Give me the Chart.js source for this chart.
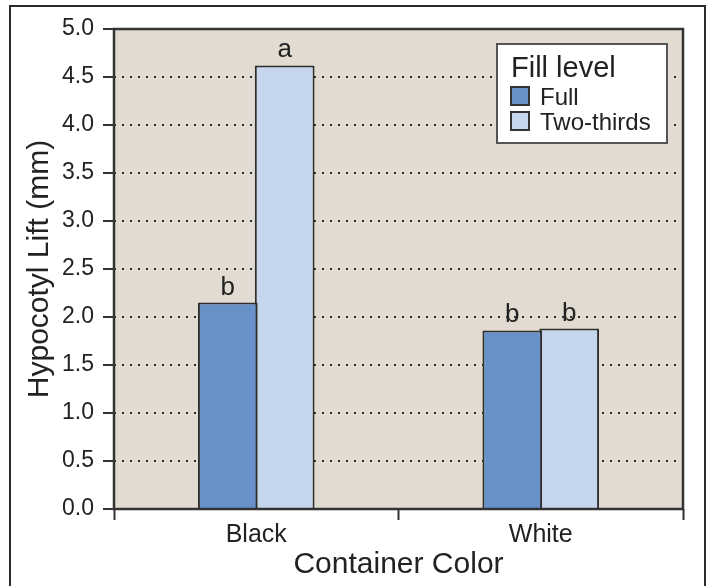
<!DOCTYPE html>
<html>
<head>
<meta charset="utf-8">
<title>Hypocotyl Lift by Container Color</title>
<script src="https://cdn.jsdelivr.net/npm/chart.js@4.4.0/dist/chart.umd.min.js"></script>
<style>
  html, body { margin: 0; padding: 0; background: #fff; }
  #wrap { position: relative; width: 709px; height: 586px; overflow: hidden; }
  #frame { position: absolute; left: 9px; top: 5px; width: 693px; height: 620px; border: 2px solid #2b2b2b; }
  #chart { position: absolute; left: 0; top: 0; }
</style>
</head>
<body>
<div id="wrap">
  <div id="frame"></div>
  <canvas id="chart" width="709" height="586"></canvas>
</div>
<script>
(function() {

  "use strict";

  // data
  var categories = ['Black', 'White'];
  var fullValues = [2.15, 1.86];
  var twoThirdsValues = [4.62, 1.88];
  var fullLetters = ['b', 'b'];
  var twoThirdsLetters = ['a', 'b'];
  var yTickValues = [0, 0.5, 1, 1.5, 2, 2.5, 3, 3.5, 4, 4.5, 5];

  var FONT = "'Liberation Sans', Arial, Helvetica, sans-serif";
  var INK = '#222';
  var colFull = '#6891c9';
  var colTwoThirds = '#c6d6ec';

  Chart.defaults.font.family = FONT;
  Chart.defaults.color = INK;

  // beige plot area + dark frame round it
  var plotFrame = {
    id: 'plotFrame',
    beforeDraw: function(chart) {
      var a = chart.chartArea, ctx = chart.ctx;
      ctx.save();
      ctx.fillStyle = '#e1dbd1';
      ctx.fillRect(a.left, a.top, a.right - a.left, a.bottom - a.top);
      ctx.restore();
    },
    afterDatasetsDraw: function(chart) {
      var a = chart.chartArea, ctx = chart.ctx;
      ctx.save();
      ctx.strokeStyle = '#333';
      ctx.lineWidth = 2.5;
      ctx.strokeRect(a.left, a.top, a.right - a.left, a.bottom - a.top);
      ctx.restore();
    }
  };

  // significance letters above each bar
  var barLetters = {
    id: 'barLetters',
    afterDatasetsDraw: function(chart) {
      var ctx = chart.ctx;
      ctx.save();
      ctx.font = '26px ' + FONT;
      ctx.fillStyle = INK;
      ctx.textAlign = 'center';
      ctx.textBaseline = 'alphabetic';
      chart.data.datasets.forEach(function(ds, i) {
        chart.getDatasetMeta(i).data.forEach(function(bar, j) {
          ctx.fillText(ds.letters[j], bar.x, bar.y - 8);
        });
      });
      ctx.restore();
    }
  };

  // boxed legend in the top right corner of the plot
  var boxLegend = {
    id: 'boxLegend',
    afterDraw: function(chart) {
      var a = chart.chartArea, ctx = chart.ctx;
      var w = 170, h = 99;
      var x = a.right - 16 - w, y = a.top + 15;
      ctx.save();
      ctx.fillStyle = '#fff';
      ctx.fillRect(x, y, w, h);
      ctx.strokeStyle = '#555';
      ctx.lineWidth = 2;
      ctx.strokeRect(x, y, w, h);

      ctx.fillStyle = INK;
      ctx.textAlign = 'left';
      ctx.textBaseline = 'alphabetic';
      ctx.font = '29px ' + FONT;
      ctx.fillText('Fill level', x + 14, y + 33);

      ctx.font = '24px ' + FONT;
      chart.data.datasets.forEach(function(ds, i) {
        var sy = y + 43 + i * 25;
        ctx.fillStyle = ds.backgroundColor;
        ctx.fillRect(x + 14, sy, 18, 18);
        ctx.strokeStyle = '#333';
        ctx.lineWidth = 2;
        ctx.strokeRect(x + 14, sy, 18, 18);
        ctx.fillStyle = INK;
        ctx.fillText(ds.label, x + 43, sy + 18);
      });
      ctx.restore();
    }
  };

  new Chart(document.getElementById('chart'), {
    type: 'bar',
    data: {
      labels: categories,
      datasets: [{
        label: 'Full',
        data: fullValues,
        letters: fullLetters,
        backgroundColor: colFull,
        borderColor: '#2e2e2e',
        borderWidth: 2
      }, {
        label: 'Two-thirds',
        data: twoThirdsValues,
        letters: twoThirdsLetters,
        backgroundColor: colTwoThirds,
        borderColor: '#2e2e2e',
        borderWidth: 2
      }]
    },
    options: {
      responsive: false,
      animation: false,
      devicePixelRatio: 1,
      layout: { padding: { left: 0, top: 29, right: 26, bottom: 0 } },
      datasets: { bar: { categoryPercentage: 0.4, barPercentage: 1.05 } },
      plugins: {
        legend: { display: false },
        tooltip: { enabled: false }
      },
      scales: {
        x: {
          grid: {
            offset: true,
            drawOnChartArea: false,
            drawTicks: true,
            tickLength: 11,
            tickColor: '#333',
            tickWidth: 2
          },
          border: { display: false },
          ticks: { font: { size: 25 }, color: INK, padding: 0 },
          title: {
            display: true,
            text: 'Container Color',
            font: { size: 30 },
            color: INK,
            padding: { top: 0, bottom: 3 }
          },
          afterFit: function(scale) { scale.height = 77; }
        },
        y: {
          min: 0,
          max: 5,
          afterBuildTicks: function(scale) {
            scale.ticks = yTickValues.map(function(v) { return { value: v }; });
          },
          ticks: {
            font: { size: 23 },
            color: INK,
            padding: 9,
            callback: function(v) { return Number(v).toFixed(1); }
          },
          grid: {
            color: function(c) {
              if (c.tick && (c.tick.value === 0 || c.tick.value === 5)) return 'rgba(0,0,0,0)';
              return '#333';
            },
            lineWidth: 2,
            tickColor: '#333',
            tickWidth: 2,
            tickLength: 11,
            tickBorderDash: []
          },
          border: { display: false, dash: [2, 6] },
          title: {
            display: true,
            text: 'Hypocotyl Lift (mm)',
            font: { size: 30 },
            color: INK,
            padding: { top: 22, bottom: 0 }
          },
          afterFit: function(scale) { scale.width = 114; }
        }
      }
    },
    plugins: [plotFrame, barLetters, boxLegend]
  });

})();
</script>
</body>
</html>
